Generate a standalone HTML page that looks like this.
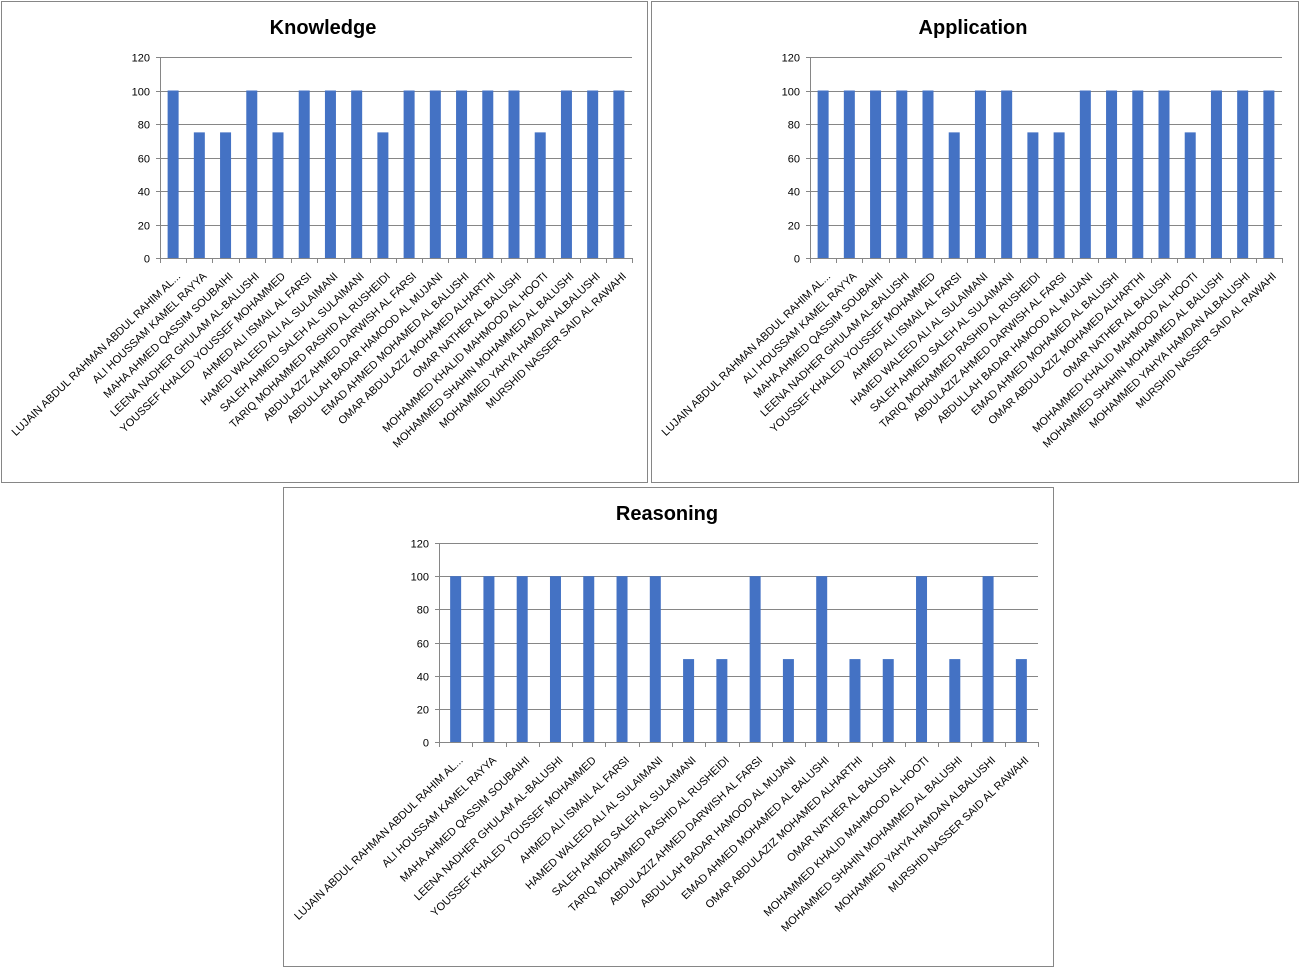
<!DOCTYPE html>
<html><head><meta charset="utf-8"><style>
body{margin:0;background:#fff;width:1303px;height:970px;overflow:hidden;font-family:"Liberation Sans",sans-serif}
svg{position:absolute;left:0;top:0}
</style></head><body>
<svg id="s" width="1303" height="970" xmlns="http://www.w3.org/2000/svg"></svg>
<script>
const names=["LUJAIN ABDUL RAHMAN ABDUL RAHIM AL...","ALI HOUSSAM KAMEL RAYYA","MAHA AHMED QASSIM SOUBAIHI","LEENA NADHER GHULAM AL-BALUSHI","YOUSSEF KHALED YOUSSEF MOHAMMED","AHMED ALI ISMAIL AL FARSI","HAMED WALEED ALI AL SULAIMANI","SALEH AHMED SALEH AL SULAIMANI","TARIQ MOHAMMED RASHID AL RUSHEIDI","ABDULAZIZ AHMED DARWISH AL FARSI","ABDULLAH BADAR HAMOOD AL MUJANI","EMAD AHMED MOHAMED AL BALUSHI","OMAR ABDULAZIZ MOHAMED ALHARTHI","OMAR NATHER AL BALUSHI","MOHAMMED KHALID MAHMOOD AL HOOTI","MOHAMMED SHAHIN MOHAMMED AL BALUSHI","MOHAMMED YAHYA HAMDAN ALBALUSHI","MURSHID NASSER SAID AL RAWAHI"];
const knowledge=[100,75,75,100,75,100,100,100,75,100,100,100,100,100,75,100,100,100];
const application=[100,100,100,100,100,75,100,100,75,75,100,100,100,100,75,100,100,100];
const reasoning=[100,100,100,100,100,100,100,50,50,100,50,100,50,50,100,50,100,50];
const ticks=[0,20,40,60,80,100,120];
const NS="http://www.w3.org/2000/svg";
const svg=document.getElementById('s');
function el(t,a,p){const e=document.createElementNS(NS,t);for(const k in a)e.setAttribute(k,a[k]);(p||svg).appendChild(e);return e;}
function chart(key,title,vals,bx,by,bw,bh,px0,px1,py0,py1,tx){
  const g=el('g',{});
  
  
  el('rect',{x:bx+.5,y:by+.5,width:bw,height:bh,fill:'#fff',stroke:'#868686'},g);
  const t=el('text',{x:tx,y:by+33,'font-size':20,'font-weight':'bold','text-anchor':'middle',fill:'#000'},g);
  t.textContent=title;
  
  
  const y=v=>py0+(py1-py0)*(v/120);
  const n=vals.length, cw=(px1-px0)/n;
  const x=i=>px0+cw*(i+.5);
  ticks.forEach(v=>{
    const yy=Math.round(y(v))+.5;
    el('line',{x1:px0,x2:px1,y1:yy,y2:yy,stroke:'#868686'},g);
    el('line',{x1:px0-4,x2:px0,y1:yy,y2:yy,stroke:'#868686'},g);
    const l=el('text',{x:px0-10,y:yy+4,'font-size':11,'text-anchor':'end',fill:'#000'},g);
    l.textContent=v;
    
    
  });
  el('line',{x1:px0+.5,x2:px0+.5,y1:y(120),y2:py0,stroke:'#868686'},g);
  vals.forEach((v,i)=>{
    const r=el('rect',{x:x(i)-5.5,y:y(v),width:11,height:py0-y(v),fill:'#4472c4'},g);
    
    
  });
  for(let i=0;i<=n;i++){const xx=Math.round(px0+cw*i)+.5;el('line',{x1:xx,x2:xx,y1:py0,y2:py0+5,stroke:'#868686'},g);}
  names.forEach((nm,i)=>{
    const cx=x(i)+8, cy=py0+19;
    const l=el('text',{x:cx,y:cy,'font-size':11,'text-anchor':'end',fill:'#000',transform:`rotate(-44 ${cx} ${cy})`},g);
    l.textContent=nm;
    
    
  });
}
chart('knowledge','Knowledge',knowledge,1,1,646,481,160,632,258,57,323);
chart('application','Application',application,651,1,647,481,810,1282,258,57,973);
chart('reasoning','Reasoning',reasoning,283,487,770,479,439,1038,742,543,667);
</script>
</body></html>
